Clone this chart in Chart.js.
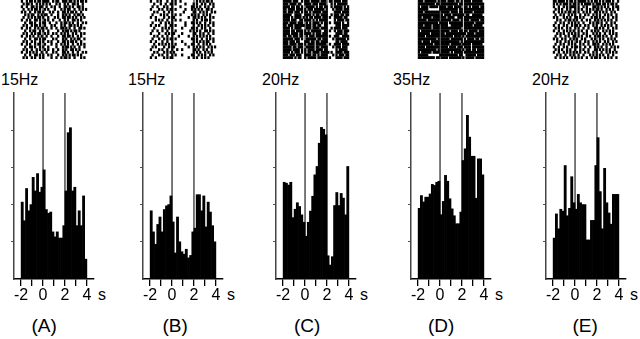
<!DOCTYPE html>
<html lang="en">
<head>
<meta charset="UTF-8">
<title>PSTH panels</title>
<script src="https://cdn.jsdelivr.net/npm/chart.js"></script>
<style>
  body { margin: 0; background: #fff; }
  #fig { position: relative; width: 640px; height: 339px; overflow: hidden;
         font-family: "Liberation Sans", Arial, sans-serif; }
  #fig canvas { position: absolute; }
  .lbl { position: absolute; font-size: 16px; line-height: 16px; color: #000; white-space: nowrap; }
  .panel { font-size: 19px; line-height: 19px; }
</style>
</head>
<body>
<div id="fig"></div>
<script>
// bin centres in seconds (0.2 s bins from -2 to 4)
const binCenters = [-1.9, -1.7, -1.5, -1.3, -1.1, -0.9, -0.7, -0.5, -0.3, -0.1,
                    0.1, 0.3, 0.5, 0.7, 0.9, 1.1, 1.3, 1.5, 1.7, 1.9,
                    2.1, 2.3, 2.5, 2.7, 2.9, 3.1, 3.3, 3.5, 3.7, 3.9];

// firing rate per bin (Hz)
const rateA = [6.2, 4.7, 7.3, 5.5, 6.0, 8.2, 7.1, 8.5, 7.0, 7.4,
               8.8, 5.6, 5.3, 5.4, 3.8, 3.4, 3.8, 3.3, 3.3, 4.3,
               7.1, 11.8, 12.2, 7.1, 7.4, 4.3, 5.5, 4.3, 6.7, 1.6];
const rateB = [5.5, 3.8, 2.8, 4.4, 5.0, 3.8, 5.6, 5.9, 6.0, 6.7,
               4.6, 2.1, 5.0, 3.0, 2.2, 2.0, 2.4, 1.7, 1.9, 3.8,
               4.1, 6.8, 6.8, 5.5, 6.7, 4.2, 6.2, 5.4, 4.3, 3.0];
const rateC = [10.4, 10.3, 10.1, 10.4, 6.6, 7.5, 8.2, 7.8, 6.9, 6.1,
               4.6, 6.1, 7.3, 8.9, 11.2, 12.1, 14.6, 16.3, 16.1, 15.5,
               2.5, 1.5, 2.4, 7.9, 9.3, 7.9, 9.2, 8.7, 6.9, 12.1];
const rateD = [13.3, 15.7, 14.5, 15.4, 15.4, 16.0, 17.8, 17.6, 18.2, 18.4,
               12.1, 14.6, 19.5, 18.4, 15.1, 13.2, 11.9, 10.4, 10.4, 12.6,
               22.3, 24.5, 30.8, 26.7, 23.1, 23.1, 15.2, 22.6, 22.6, 19.6];
const rateE = [4.4, 7.0, 5.4, 7.5, 7.3, 12.2, 6.8, 7.6, 11.0, 8.2,
               7.5, 9.1, 8.2, 8.0, 8.0, 4.2, 4.2, 6.3, 6.3, 12.2,
               15.2, 9.4, 5.4, 11.9, 8.2, 7.1, 5.9, 9.1, 9.1, 9.1];

const yMaxHz = [15, 15, 20, 35, 20];
const hzLabels = ['15Hz', '15Hz', '20Hz', '35Hz', '20Hz'];
const panelNames = ['(A)', '(B)', '(C)', '(D)', '(E)'];
const tickValues = [-2, -1, 0, 1, 2, 3, 4];
const labeledTicks = [-2, 0, 2, 4];
const eventTimes = [0, 2];

// raster slots: 40 slots of 0.15 s from -2 to 4
const slotTimes = [-1.925, -1.775, -1.625, -1.475, -1.325, -1.175, -1.025, -0.875, -0.725, -0.575,
                   -0.425, -0.275, -0.125, 0.025, 0.175, 0.325, 0.475, 0.625, 0.775, 0.925,
                   1.075, 1.225, 1.375, 1.525, 1.675, 1.825, 1.975, 2.125, 2.275, 2.425,
                   2.575, 2.725, 2.875, 3.025, 3.175, 3.325, 3.475, 3.625, 3.775, 3.925];

const rasterA = [
"#..#.##.#.##.####..#.##..###.##.#.#.##.#",
".#.##.#..#.#.#.#.#...#.#..#.#..##.#..#..",
"#..#..##.#.##..#..#.#..#..##.#.#..##.#..",
".#..#.#.##.#..#.#...#...#.#.##..#..#.#.#",
"#.#..#..#.##.#...#.#..#..##.#.##.#..#...",
"..#.#.##..#.#.##..#...#..#.#.#..#.##.#..",
".#..#.#.#.##.#..#...#.#..##.##.#.#..#.#.",
"#..#.#..##.#..#.#..#...#..#.#..##.#.#...",
"..#..##.#..#.##..#...#..#.##.#.#..#..#.#",
".#.#..#.##.#..#...#.#...#.#..##.#.#.#...",
"#..#.#..#.#.##.#..#..#..##.#.#..#..##.#.",
"..#..#.##..#.#..#.....#..#.##.#.##.#....",
".#.#..#.#.##..#.#..#.#..#.#.#..#.#..#.#.",
"#..#.#.#..#.#..#..#...#..##.##.#..#.#...",
"..#..#..##.#.##....#.#...#.#..#.#.##..#.",
".#.#..#.#..#.#..#.#...#..##.#.##.#..#...",
"#..#.#..#.##..#...#..#..#.#.#..#..#.#.#.",
"..#..##.#..#.#..#....#...#.##.#.#..#..#.",
".#.#..#..#.#..#.#..#..#..#.#..##.#.#....",
"#..#.#.#.#..#..#...#.#...##.#..#..#..#.#",
"..#..#..##.#.#..#.#...#..#.#.#.##.#.#...",
".#.#..#.#..#.#....#..#..#.##.#..#...#.#."
];
const rasterB = [
"#...#.#...#..#.#..#.........#.#.#.##.#..",
"..#...#..#..##.#.....#....#.#..#.#..#.#.",
".#..#...#.#..#....#......##.#.#..#.#..#.",
"#....#.#..#.##.#.....#...#.#.#.#..##.#..",
"..#.#...#..#.#......#.....##..#.#.#..#.#",
".#....#.#.#..#.#..#......#.#.#..#.#.#...",
"#..#....#..#.##........#..##.#.#.#..#.#.",
"...#.#.#..#..#.#..#.......#.#..#.##.#...",
".#....#..#.#.#.......#...##.#.#..#..#.#.",
"#..#.#...#..##.#.....#....#..#.#.#.#..#.",
"..#....#.#.#.#.....#.....##.#..#.#..#...",
".#..#..#..#..#.#........#.#.#.#..##.#.#.",
"#....#...#.#.##....#......##..#.#..#..#.",
"..#.#..#..#..#...#.....#..#.#.#.#.#.#...",
".#...#..#.#.##.#.........##.#..#..#.#.#.",
"#..#...#..#..#.....#......#.#.#.#.##..#.",
"..#..#.#.#.#.#.#.....#...##..#..#.#.#...",
".#.#....#..#.##........#..#.#.#.#..#.#.#",
"#....#.#..#..#..#..#......##.#..#.#..#..",
"..#.#...#.#.#.#...........#.#.#..#.#.#..",
".#...#.#..#..#.#...#.....##..#.#.#..#.#.",
"#..#....#.#.##.........#..#.#..#.#.#...."
];
const rasterC = [
"#####.###..#.###.#####.###..##.####.###.",
"###.####.##..####.###.####...#.#.######.",
"####.##.##.#..#####.#.##.##..#.#####.#.#",
"##.####.####.#.###.######.#...#.####.###",
"##.###.###.#.##.#.#####.###....####.####",
"#####..####..####.#.##.####..#.###.##.##",
"####.#.####.#.#.##.####.###.#..#####.##.",
"####.###..##.####.#.#.#####....#.####.##",
"###.####.###..#.#.####.#.##.#..####.#..#",
"##.###.######.###.##.##..##.....###.####",
"####.#.####...###.####.####..#.####.###.",
"####.##.####.#.#.######..##.#..#.###.###",
"####.####.##.####.#.###.###.....####.##.",
"##.##.###.##..#.###.#######.#..###..####",
"######.###.#..######.##.###...#.######.#",
"###.###.##...###.##.##.####.....##.####.",
"###.####.###.#.####.######..#..####.####",
"#####.##.###..#####.##.####...#.###.###.",
"#####.####.#.#.####.####.##.....#.#####.",
"####.#.###.#.#.##.####.#####.#..####.###",
"###.###.###..####.##.#.####...#.#.###.##",
"######.#.##..#.#####.######.#...####.###"
];
const rasterD = [
"###.#######.#.###.####.##.#.####.######.",
"##########.##.##########.##.############",
"#.####.#####.####.###.####..##.#.####.##",
"######.......###########.##.############",
"###.#########.#####.####.##.#####.######",
"#############.#.####.#######.##..######.",
"##.#####.####.###.####..###.############",
"#####.#######.######.####.#.###.#####.##",
"############.#####.########.######.#####",
"###.####.####.####..#######.#####.#####.",
"########.####.############..############",
"#.###########.#####.####.##.##.#####.###",
"#######.#####.##.############.####.#####",
"####.########.#######.####.#.###########",
"###########.#.#####.#######.#.####.##.##",
"##.####.#####.###########.#.############",
"#########.###.#####.######.#####.######.",
"####.########.####.####.###.####.#######",
"###########.#.############.#.###.##.####",
"#.######.####.#####.#.#####.############",
"######.......###########.##..######.####",
"##########.##.####.#######.#.#####.#####"
];
const rasterE = [
"##.####.#.##.#.#####.#.#.##.#.#.###.#..#",
"#.#.#.###.#.##.#.#.####.#.###.##.#.##.#.",
"#..#..#.#.####.#..#.#...##.#.#.#.#..#.##",
".#.#.#..#.#..#.#.#..#.#.#.##.#..#.#.#..#",
"#..#.#.#.##.##.#..#.#.#..##.#.#.#..#.#..",
".#..#.#..#.#.#..#..#.#..#.#.#..#.#.#..#.",
"#.#...#.#.#..##.#.#....#.##.#.#..#..#.#.",
"..#.#..#.##.#.#..#..#.#..#.#.#.#.#.#..#.",
".#..#.#..#.#.#.#..#...#.#.##.#..#..#.#..",
"#..#..#.#..#.##.#..#.#..#.#..#.#.#.#..#.",
".#.#.#..#.#..#.#..#..#...##.#.#..#..#.#.",
"#..#..#.#.#.#..#.#..#..#.#.#..#.#.#.#...",
"..#.#.#..#.#.#.#..#.#...#.#.#..#..#.#.#.",
".#..#..#.#..##.#.#..#.#..#.##.#.#..#..#.",
"#.#..#.#..#.#.#..#.#...#.#..#.#..#.#.#..",
"..#.#..#.#.#..#.#..#.#..#.#.#..#.#..#.#.",
".#..#.#..#.#.#..#.#..#..##.#..#.#.#.#...",
"#..#..#.#..#.##.#..#..#..#.#.#..#..#.#.#",
".#.#.#..#.#..#..#.#..#...##.#.#.#.#..#..",
"#..#..#.#.#.#.#.#..#.#..#.#..#..#.#.#.#.",
"..#.#..#..#.#..#..#...#.#.#.#.#..#..#...",
".#..#.#.#..#.#.#.#..#..#.##.#..#.#.#..#."
];

const rates = [rateA, rateB, rateC, rateD, rateE];
const rasters = [rasterA, rasterB, rasterC, rasterD, rasterE];

// layout (pixels)
const axisX = [14, 143, 276, 411, 546];
const hzX = [1, 128, 262, 393, 532];
const panelCx = [44, 175, 307, 441, 585];
const plotW = 80, padL = 14, padR = 4, padT = 3;
const histTop = 90, histH = 215, xAxisH = 26;
const rasterTop = 0, rasterH = 59;
const xMin = -2.65, xMax = 4.65;
const FONT = '"Liberation Sans", Arial, sans-serif';

const fig = document.getElementById('fig');

const eventLines = {
  id: 'eventLines',
  beforeDatasetsDraw(chart, args, opts) {
    const {ctx, chartArea, scales: {x}} = chart;
    ctx.save();
    ctx.strokeStyle = opts.color || '#000';
    ctx.lineWidth = opts.width || 1;
    eventTimes.forEach(t => {
      const px = x.getPixelForValue(t);
      ctx.beginPath();
      ctx.moveTo(px, chartArea.top);
      ctx.lineTo(px, chartArea.bottom);
      ctx.stroke();
    });
    ctx.restore();
  }
};

function addLabel(text, left, top, cls) {
  const d = document.createElement('div');
  d.className = 'lbl' + (cls ? ' ' + cls : '');
  d.textContent = text;
  d.style.left = left + 'px';
  d.style.top = top + 'px';
  fig.appendChild(d);
  return d;
}

function makeCanvas(left, top, w, h) {
  const cv = document.createElement('canvas');
  cv.width = w; cv.height = h;
  cv.style.left = left + 'px';
  cv.style.top = top + 'px';
  cv.style.width = w + 'px';
  cv.style.height = h + 'px';
  fig.appendChild(cv);
  return cv;
}

for (let i = 0; i < 5; i++) {
  const cLeft = axisX[i] - padL;
  const cv = makeCanvas(cLeft, histTop, plotW + padL + padR, histH);
  const yMax = yMaxHz[i];

  const hist = new Chart(cv, {
    type: 'bar',
    data: {
      datasets: [{
        data: binCenters.map((x, k) => ({x: x, y: rates[i][k]})),
        backgroundColor: '#000',
        borderWidth: 0,
        barPercentage: 1,
        categoryPercentage: 1
      }]
    },
    options: {
      responsive: false,
      animation: false,
      events: [],
      layout: { padding: { left: padL, right: padR, top: padT, bottom: 0 } },
      plugins: {
        legend: { display: false },
        tooltip: { enabled: false },
        eventLines: { color: '#222', width: 1.2 }
      },
      scales: {
        x: {
          type: 'linear', min: xMin, max: xMax, offset: false,
          afterBuildTicks: s => { s.ticks = tickValues.map(v => ({value: v})); },
          afterFit: s => { s.height = xAxisH; },
          ticks: {
            autoSkip: false, maxRotation: 0, padding: 0, color: '#000',
            font: { family: FONT, size: 16 },
            callback: v => labeledTicks.includes(v) ? String(v) : ''
          },
          grid: { offset: false, drawOnChartArea: false, drawTicks: true, tickLength: 7, color: '#000', lineWidth: 1.3 },
          border: { display: true, color: '#000', width: 1.5 }
        },
        y: {
          min: 0, max: yMax,
          afterBuildTicks: s => { s.ticks = [1, 2, 3, 4].map(k => ({value: yMax * k / 5})); },
          afterFit: s => { s.width = 0; },
          ticks: { display: false },
          grid: { drawOnChartArea: false, drawTicks: true, tickLength: 3, color: '#555', lineWidth: 1 },
          border: { display: true, color: '#444', width: 1.5 }
        }
      }
    },
    plugins: [eventLines]
  });

  // raster above, aligned with the histogram's time axis
  const area = hist.chartArea;
  const rows = rasters[i];
  const spikes = [];
  rows.forEach((row, r) => {
    for (let k = 0; k < row.length; k++) {
      if (row[k] === '#') spikes.push({x: slotTimes[k], y: [r + 0.08, r + 0.92]});
    }
  });
  const rc = makeCanvas(cLeft + area.left, rasterTop, Math.round(area.width), rasterH);
  new Chart(rc, {
    type: 'bar',
    data: {
      datasets: [{
        data: spikes,
        backgroundColor: '#000',
        borderWidth: 0,
        barPercentage: 1,
        categoryPercentage: 1
      }]
    },
    options: {
      responsive: false,
      animation: false,
      events: [],
      layout: { padding: 0 },
      plugins: {
        legend: { display: false },
        tooltip: { enabled: false },
        eventLines: { color: '#000', width: 1 }
      },
      scales: {
        x: { type: 'linear', display: false, min: xMin, max: xMax, offset: false, grid: { offset: false } },
        y: { display: false, min: 0, max: rows.length, reverse: true }
      }
    },
    plugins: [eventLines]
  });

  addLabel(hzLabels[i], hzX[i], 72);
  addLabel('s', axisX[i] + 84, 287);
  const p = addLabel(panelNames[i], 0, 316, 'panel');
  p.style.left = (panelCx[i] - p.offsetWidth / 2) + 'px';
}
</script>
</body>
</html>
